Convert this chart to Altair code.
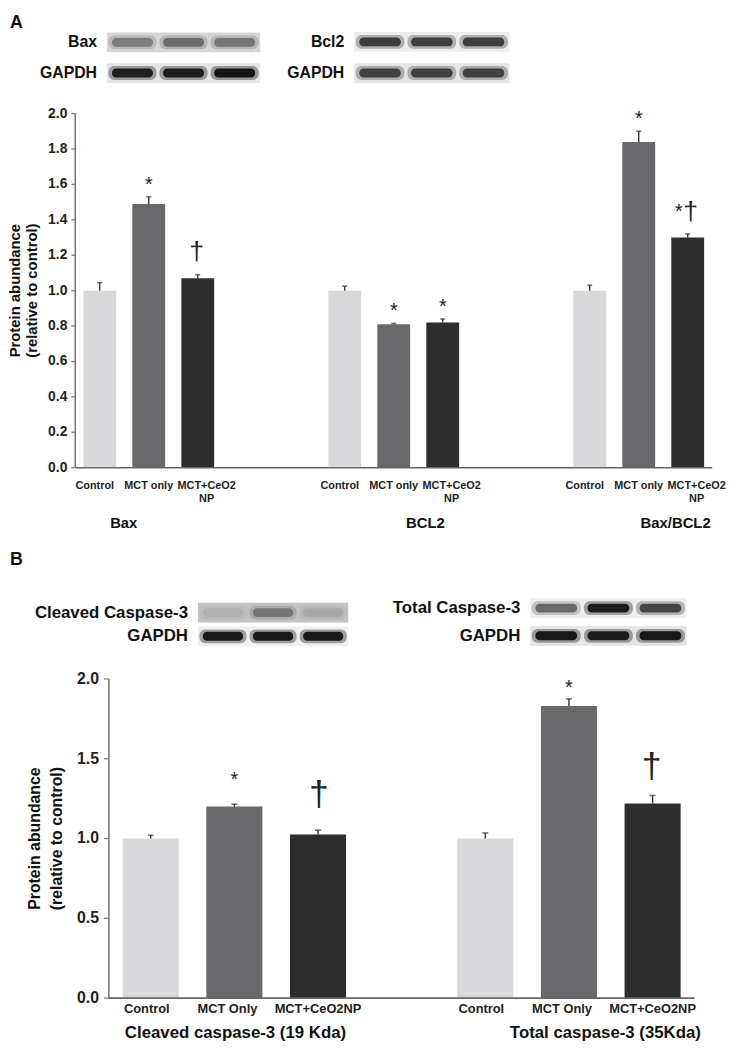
import altair as alt
import pandas as pd

# ---------------- data ----------------
ARMS = ["Control", "MCT", "MCT+CeO2"]
ARM_COLORS = ["#d9d9db", "#69696b", "#2d2d2d"]

A_GROUPS = ["Bax", "BCL2", "Bax/BCL2"]
A_TREATMENTS = ["Control", "MCT only", "MCT+CeO2\nNP"]
A_MEANS = [1.00, 1.49, 1.07, 1.00, 0.81, 0.82, 1.00, 1.84, 1.30]
A_ERRORS = [0.045, 0.04, 0.02, 0.025, 0.005, 0.02, 0.03, 0.06, 0.02]
A_SIGNIF = ["", "*", "†", "", "*", "*", "", "*", "*†"]
A_TICKS = [0.0, 0.2, 0.4, 0.6, 0.8, 1.0, 1.2, 1.4, 1.6, 1.8, 2.0]

B_GROUPS = ["Cleaved caspase-3 (19 Kda)", "Total caspase-3 (35Kda)"]
B_TREATMENTS = ["Control", "MCT Only", "MCT+CeO2NP"]
B_MEANS = [1.00, 1.20, 1.025, 1.00, 1.83, 1.22]
B_ERRORS = [0.02, 0.015, 0.027, 0.035, 0.045, 0.05]
B_SIGNIF = ["", "*", "†", "", "*", "†"]
B_TICKS = [0.0, 0.5, 1.0, 1.5, 2.0]

Y_TITLE = ["Protein abundance", "(relative to control)"]
PANEL_LETTERS = ["A", "B"]

# western blot band densities (0 = blank film, 1 = black), one per lane
BAX_LABELS = ["Bax", "GAPDH"]
BAX_BANDS = [0.33, 0.40, 0.36]
BAX_GAPDH = [0.80, 0.82, 0.86]
BAX_BG = [0.16, 0.10]

BCL2_LABELS = ["Bcl2", "GAPDH"]
BCL2_BANDS = [0.66, 0.64, 0.64]
BCL2_GAPDH = [0.62, 0.62, 0.62]
BCL2_BG = [0.07, 0.10]

CL_LABELS = ["Cleaved Caspase-3", "GAPDH"]
CL_BANDS = [0.06, 0.30, 0.10]
CL_GAPDH = [0.85, 0.84, 0.84]
CL_BG = [0.24, 0.06]

TOT_LABELS = ["Total Caspase-3", "GAPDH"]
TOT_BANDS = [0.45, 0.82, 0.62]
TOT_GAPDH = [0.84, 0.82, 0.84]
TOT_BG = [0.07, 0.10]

FONT = "Liberation Sans"
AXIS_GREY = "#7a7a7a"
INK = "#222222"


def bar_frame(groups, treatments, means, errors, signif, slot):
    rows = []
    for i, (m, e, s) in enumerate(zip(means, errors, signif)):
        g, t = divmod(i, 3)
        pos = g * slot + t
        rows.append(dict(group=groups[g], arm=ARMS[t], label=treatments[t],
                         mean=m, top=m + e, sig=s, pos=pos,
                         x0=pos - 0.335, x1=pos + 0.335, base=0.0, gi=g))
    return pd.DataFrame(rows)


arm_scale = alt.Scale(domain=ARMS, range=ARM_COLORS)


def panel(df, xs, ys, px_per_unit, ticks, tick_font, tick_len, label_gap, cap_size,
          label_font, label_dy, label_dx, label_lh, extra_layers):
    X = lambda f: alt.X(f, scale=xs, axis=None)
    Y = lambda f: alt.Y(f, scale=ys, axis=None)
    base = alt.Chart(df)
    one = alt.Chart(pd.DataFrame({"v": [0]}))
    tdf = alt.Chart(pd.DataFrame({"v": ticks}))
    x_left = xs.domain[0]
    x_right = xs.domain[1]
    bars = base.mark_bar().encode(
        x=X("x0:Q"), x2="x1:Q", y=Y("mean:Q"), y2="base:Q",
        color=alt.Color("arm:N", scale=arm_scale, legend=None))
    err = base.mark_rule(color="#333333", strokeWidth=1.4).encode(
        x=X("pos:Q"), y=Y("mean:Q"), y2="top:Q")
    cap = base.mark_tick(orient="horizontal", size=cap_size, thickness=1.6,
                         color="#333333").encode(x=X("pos:Q"), y=Y("top:Q"))
    # axes drawn through the scales
    xline = one.mark_rule(color="#666666", strokeWidth=1.6).encode(
        x=alt.X(datum=x_left, scale=xs, axis=None), x2=alt.X2(datum=x_right),
        y=alt.Y(datum=0, scale=ys, axis=None))
    yline = one.mark_rule(color=AXIS_GREY, strokeWidth=1.6).encode(
        x=alt.X(datum=x_left, scale=xs, axis=None),
        y=alt.Y(datum=ticks[0], scale=ys, axis=None), y2=alt.Y2(datum=ticks[-1]))
    yticks = tdf.mark_rule(color=AXIS_GREY, strokeWidth=1.3).encode(
        x=alt.X(datum=x_left, scale=xs, axis=None),
        x2=alt.X2(datum=x_left - tick_len / px_per_unit), y=Y("v:Q"))
    ylabels = tdf.mark_text(align="right", baseline="middle", dx=-label_gap, font=FONT,
                            fontSize=tick_font, fontWeight="bold", color=INK).encode(
        x=alt.X(datum=x_left, scale=xs, axis=None), y=Y("v:Q"),
        text=alt.Text("v:Q", format=".1f"))
    labels = []
    for t, dx in enumerate(label_dx):
        labels.append(base.transform_filter(alt.datum.arm == ARMS[t]).mark_text(
            align="center", baseline="top", dy=label_dy, dx=dx, font=FONT,
            fontSize=label_font, fontWeight="bold", lineBreak="\n",
            lineHeight=label_lh, color=INK).encode(
            x=X("pos:Q"), y=Y("base:Q"), text="label:N"))
    layers = [bars, err, cap, xline, yline, yticks, ylabels] + labels
    for flt, txt, fs, dx, dy in extra_layers:
        layers.append(base.transform_filter(flt).mark_text(
            text=txt, font=FONT, fontSize=fs, dx=dx, dy=dy, align="center",
            baseline="alphabetic", color=INK).encode(x=X("pos:Q"), y=Y("top:Q")))
    return alt.layer(*layers)


# ---------------- panel A bars ----------------
dfa = bar_frame(A_GROUPS, A_TREATMENTS, A_MEANS, A_ERRORS, A_SIGNIF, 5)
xa = alt.Scale(domain=[-0.5, 12.5], range=[68, 712], nice=False, zero=False)
ya = alt.Scale(domain=[0, 2], range=[459, 101], nice=False, zero=False)
panel_a = panel(
    dfa, xa, ya, 644 / 13, A_TICKS, 14, 4, 8, 5, 11, 13, [-5, 0, 9], 13,
    [(alt.datum.sig == "*", "*", 20, 0, -6),
     (alt.datum.sig == "†", "†", 27, -1, -15),
     (alt.datum.sig == "*†", "*", 20, -9, -16),
     (alt.datum.sig == "*†", "†", 27, 3, -14)])

# ---------------- panel B bars ----------------
dfb = bar_frame(B_GROUPS, B_TREATMENTS, B_MEANS, B_ERRORS, B_SIGNIF, 4)
xb = alt.Scale(domain=[-0.5, 6.5], range=[102, 694], nice=False, zero=False)
yb = alt.Scale(domain=[0, 2], range=[995.3, 672.6], nice=False, zero=False)
panel_b = panel(
    dfb, xb, yb, 592 / 7, B_TICKS, 16, 5, 10, 6, 13, 5, [-4, -7, 0], 15,
    [((alt.datum.sig == "*") & (alt.datum.gi == 0), "*", 20, 0, -18),
     ((alt.datum.sig == "*") & (alt.datum.gi == 1), "*", 20, 0, -5),
     ((alt.datum.sig == "†") & (alt.datum.gi == 0), "†", 36, 1, -24),
     ((alt.datum.sig == "†") & (alt.datum.gi == 1), "†", 36, -1, -18)])


# ---------------- western blots ----------------
def blot(labels, bands, gapdh, bg, x_px, row_px, font_size):
    c0, c1 = row_px
    s = c1 - c0
    xs = alt.Scale(domain=[-0.5, 2.5], range=[x_px[0] - 8, x_px[1] - 8], nice=False, zero=False)
    ys = alt.Scale(domain=[-0.5, 1.5], range=[c0 - s / 2 - 8, c1 + s / 2 - 8], nice=False, zero=False)
    strips = pd.DataFrame([dict(row=r, x0=-0.5, x1=2.5, y0=r - 10 / s, y1=r + 10 / s, dens=bg[r])
                           for r in range(2)])
    lanes = []
    for r, dens in enumerate([bands, gapdh]):
        for ln, d in enumerate(dens):
            lanes.append(dict(row=r, lane=ln, dens=d, halo=d * 0.4,
                              hx0=ln - 0.47, hx1=ln + 0.47, hy0=r - 7 / s, hy1=r + 7 / s,
                              cx0=ln - 0.40, cx1=ln + 0.40, cy0=r - 4.5 / s, cy1=r + 4.5 / s))
    lanes = pd.DataFrame(lanes)
    names = pd.DataFrame({"row": [0, 1], "name": labels})
    op = alt.Scale(domain=[0, 1], range=[0, 1])
    X = lambda f: alt.X(f, scale=xs, axis=None)
    Y = lambda f: alt.Y(f, scale=ys, axis=None)
    strip = alt.Chart(strips).mark_rect(fill="black").encode(
        x=X("x0:Q"), x2="x1:Q", y=Y("y0:Q"), y2="y1:Q",
        opacity=alt.Opacity("dens:Q", scale=op, legend=None))
    halo = alt.Chart(lanes).mark_rect(fill="black", cornerRadius=6).encode(
        x=X("hx0:Q"), x2="hx1:Q", y=Y("hy0:Q"), y2="hy1:Q",
        opacity=alt.Opacity("halo:Q", scale=op, legend=None))
    core = alt.Chart(lanes).mark_rect(fill="black", cornerRadius=4).encode(
        x=X("cx0:Q"), x2="cx1:Q", y=Y("cy0:Q"), y2="cy1:Q",
        opacity=alt.Opacity("dens:Q", scale=op, legend=None))
    text = alt.Chart(names).mark_text(
        align="right", baseline="middle", dx=-10, font=FONT, fontSize=font_size,
        fontWeight="bold", color="#111111").encode(
        x=alt.X(datum=-0.5, scale=xs, axis=None), y=Y("row:Q"), text="name:N")
    return alt.layer(strip, halo, core, text)


blot_bax = blot(BAX_LABELS, BAX_BANDS, BAX_GAPDH, BAX_BG, (108, 263), (37, 68), 16)
blot_bcl2 = blot(BCL2_LABELS, BCL2_BANDS, BCL2_GAPDH, BCL2_BG, (358, 515), (36.5, 68), 16)
blot_cl = blot(CL_LABELS, CL_BANDS, CL_GAPDH, CL_BG, (200, 352), (613.5, 637.5), 17)
blot_tot = blot(TOT_LABELS, TOT_BANDS, TOT_GAPDH, TOT_BG, (536, 694), (609, 637), 17)


# ---------------- free text ----------------
def label(txt, x, y, size, angle=0, align="center", baseline="middle"):
    return alt.Chart(pd.DataFrame({"t": [txt]})).mark_text(
        font=FONT, fontSize=size, fontWeight="bold", angle=angle, align=align,
        baseline=baseline, color="#111111").encode(
        x=alt.value(x), y=alt.value(y), text="t:N")


texts = [
    label(PANEL_LETTERS[0], 2, 14, 18, align="left", baseline="alphabetic"),
    label(PANEL_LETTERS[1], 2, 557, 18, align="left", baseline="alphabetic"),
    label(A_GROUPS[0], 117, 515, 15),
    label(A_GROUPS[1], 422, 515, 15),
    label(A_GROUPS[2], 675, 515, 15),
    label(B_GROUPS[0], 230, 1031, 17),
    label(B_GROUPS[1], 604, 1031, 17),
    label(Y_TITLE[0], 7.5, 280, 15, angle=270),
    label(Y_TITLE[1], 24, 280, 15, angle=270),
    label(Y_TITLE[0], 27, 834, 16, angle=270),
    label(Y_TITLE[1], 50, 834, 16, angle=270),
]

chart = alt.layer(panel_a, panel_b, blot_bax, blot_bcl2, blot_cl, blot_tot, *texts).resolve_scale(
    x="independent", y="independent", color="independent", opacity="independent"
).properties(
    width=732, height=1042, padding=0, autosize=alt.AutoSizeParams(type="none")
).configure_view(stroke=None)

chart.save("out.html", embed_options={"renderer": "svg", "actions": False})
